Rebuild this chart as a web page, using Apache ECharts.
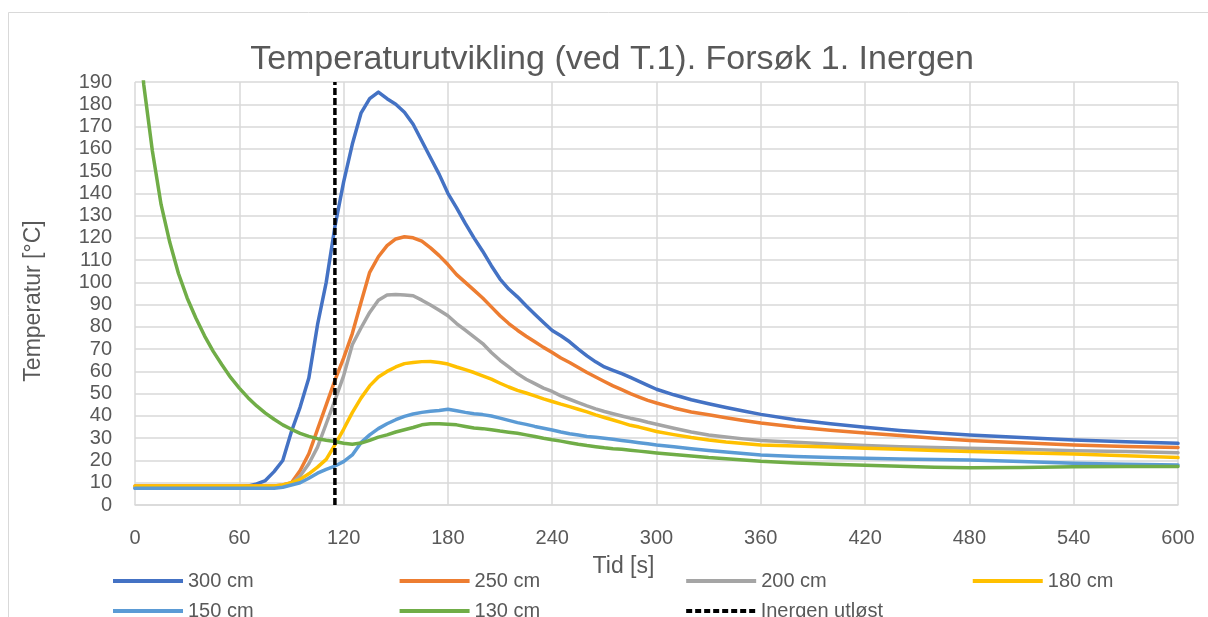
<!DOCTYPE html>
<html><head><meta charset="utf-8">
<script src="https://cdn.jsdelivr.net/npm/echarts@6/dist/echarts.min.js"></script>
<style>html,body{margin:0;padding:0;background:#fff}#c{width:1208px;height:617px}</style>
</head><body><div id="c"></div>
<script>
// Time points [s]
const times = [0,5,10,15,20,25,30,35,40,45,50,55,60,65,70,75,80,85,90,95,100,105,110,115,120,125,130,135,140,145,150,155,160,165,170,175,180,185,190,195,200,205,210,215,220,225,230,235,240,245,250,255,260,265,270,275,280,285,290,295,300,310,320,330,340,350,360,380,400,420,440,460,480,510,540,570,600];

const t300 = [7.5,7.5,7.5,7.5,7.5,7.5,7.5,7.5,7.5,7.5,7.5,7.5,8,8.5,9.5,11,15,20,33,44,57,81,100,125,145,162,176,182.5,185.5,182.5,180,176.4,171,163.5,156,148.5,140,133.5,126.5,120,114,107.5,101.5,97,93.5,89.5,85.7,82,78.4,76,73.3,70,67,64.3,62,60.5,59,57.3,55.5,53.7,52,49.5,47.3,45.5,43.8,42.2,40.7,38.3,36.5,34.9,33.5,32.4,31.4,30.3,29.2,28.4,27.7];
const t250 = [8.5,8.5,8.5,8.5,8.5,8.5,8.5,8.5,8.5,8.5,8.5,8.5,8.5,8.5,8.5,8.5,8.5,9,10,15.5,23,34,45,56,66,77,91,104.5,111.5,116.5,119.5,120.5,120,118.5,115.5,112,108,103.5,100,96.5,93,89,85,81.5,78.5,75.8,73.3,70.8,68.5,66,64,61.8,59.5,57.5,55.5,53.5,51.8,50,48.5,47,45.8,43.6,41.8,40.5,39.2,38,36.8,35,33.6,32.3,31.2,30,29,28,27,26.3,25.8];
const t200 = [8,8,8,8,8,8,8,8,8,8,8,8,8,8,8,8,8,8.5,9.5,13,18.5,26,36.5,47,58,72,79.5,86.5,92,94.3,94.5,94.3,94,92,89.8,87.5,85,81.5,78.5,75.5,72.5,68.5,65,62,59,56.5,54.5,52.5,51,49,47.5,46,44.5,43.2,42,41,40,39,38.2,37.2,36.3,34.5,32.8,31.4,30.5,29.7,29,28.2,27.4,26.7,26.2,25.8,25.5,25,24.4,24,23.5];
const t180 = [8.5,8.5,8.5,8.5,8.5,8.5,8.5,8.5,8.5,8.5,8.5,8.5,8.5,8.5,8.5,8.5,8.5,9,10,11.5,14,17,20.5,27,34,41.5,48,53.5,57.5,60,62,63.5,64,64.4,64.5,64,63.3,62,60.8,59.5,58,56.5,54.7,53,51.5,50.3,49,47.7,46.5,45.3,44.2,43,41.8,40.5,39.3,38.2,37,35.8,35,34,33,31.6,30.3,29.2,28.3,27.6,27,26.5,26,25.5,25,24.5,24,23.5,22.9,22.1,21.3];
const t150 = [7.5,7.5,7.5,7.5,7.5,7.5,7.5,7.5,7.5,7.5,7.5,7.5,7.5,7.5,7.5,7.5,7.5,8,9,10,12,14.3,16,17.5,19.5,22.5,28,31.5,34.3,36.5,38.3,39.8,40.9,41.6,42.1,42.4,43,42.3,41.6,41,40.6,40,39,38,37,36.2,35.3,34.5,33.7,32.8,32,31.4,30.8,30.4,30,29.5,29,28.5,28,27.5,27,26.2,25.3,24.5,23.8,23.1,22.5,21.8,21.3,21,20.7,20.4,20.2,19.5,18.7,18.3,18];
const t130 = [240,189,159,135,118,104,93,84,76,69,63,57.3,52.5,48.2,44.5,41.3,38.5,36,34,32.2,30.8,29.8,29.1,28.5,27.7,27.3,27.8,29,30.5,31.5,32.8,33.8,34.8,36,36.5,36.5,36.3,36,35.3,34.6,34.3,33.8,33.2,32.7,32.2,31.5,30.8,30,29.3,28.7,28,27.3,26.7,26.2,25.7,25.3,25,24.6,24.2,23.8,23.4,22.7,22,21.3,20.8,20.2,19.6,18.9,18.3,17.8,17.4,17,16.7,16.8,17.2,17.3,17.3];

const seriesNames = ['300 cm','250 cm','200 cm','180 cm','150 cm','130 cm'];
const seriesValues = [t300, t250, t200, t180, t150, t130];
const seriesColors = ['#4472C4','#ED7D31','#A5A5A5','#FFC000','#5B9BD5','#70AD47'];

const markerName = 'Inergen utløst';
const markerTime = [115, 115];
const markerTemp = [0, 190];

const FONT = 'Liberation Sans, Arial, sans-serif';
const TXT = '#595959';
const DASH_ICON = 'path://M0,0H6V4H0Z M9,0H15V4H9Z M18,0H24V4H18Z M27,0H33V4H27Z M36,0H42V4H36Z M45,0H51V4H45Z M54,0H60V4H54Z M63,0H69V4H63Z';

const chart = echarts.init(document.getElementById('c'), null, {renderer: 'canvas'});

const lineSeries = seriesNames.map((n, i) => ({
  name: n, type: 'line', symbol: 'none', clip: true,
  data: times.map((t, j) => [t, seriesValues[i][j]]),
  lineStyle: {color: seriesColors[i], width: 3.5, join: 'round', cap: 'round'},
  itemStyle: {color: seriesColors[i]},
  z: 2 + i
}));
lineSeries.push({
  name: markerName, type: 'line', symbol: 'none',
  data: markerTime.map((t, j) => [t, markerTemp[j]]),
  lineStyle: {color: '#000', width: 3.5, type: [7, 3]},
  itemStyle: {color: '#000'},
  z: 10
});

const legendCommon = {
  orient: 'horizontal', left: 113, padding: 0, itemWidth: 70, itemHeight: 4,
  itemGap: 146, icon: 'rect',
  textStyle: {fontFamily: FONT, fontSize: 20, color: TXT, lineHeight: 22}
};

chart.setOption({
  animation: false,
  backgroundColor: '#fff',
  title: {
    text: 'Temperaturutvikling (ved T.1). Forsøk 1. Inergen',
    left: 612, top: 42, textAlign: 'center', padding: 0,
    textStyle: {fontFamily: FONT, fontSize: 34, fontWeight: 'normal', color: TXT, lineHeight: 36}
  },
  graphic: [{
    type: 'rect', silent: true, z: -10,
    shape: {x: 8.5, y: 12.5, width: 1400, height: 800},
    style: {fill: 'none', stroke: '#d9d9d9', lineWidth: 1}
  }],
  legend: [
    Object.assign({}, legendCommon, {top: 570, data: seriesNames.slice(0, 4)}),
    Object.assign({}, legendCommon, {top: 600, data: [seriesNames[4], seriesNames[5], {name: markerName, icon: DASH_ICON}]})
  ],
  grid: {left: 135, right: 30, top: 82, bottom: 112, containLabel: false},
  xAxis: {
    type: 'value', min: 0, max: 600, interval: 60,
    name: 'Tid [s]', nameLocation: 'middle', nameGap: 50,
    nameTextStyle: {fontFamily: FONT, fontSize: 23, color: TXT, padding: [0, 66, 0, 0]},
    axisLine: {show: true, lineStyle: {color: '#d9d9d9', width: 1.5}},
    axisTick: {show: false},
    axisLabel: {fontFamily: FONT, fontSize: 20, color: TXT, margin: 23},
    splitLine: {show: true, lineStyle: {color: '#d9d9d9', width: 1.5}}
  },
  yAxis: {
    type: 'value', min: 0, max: 190, interval: 10,
    name: 'Temperatur [°C]', nameLocation: 'middle', nameGap: 90, nameRotate: 90,
    nameTextStyle: {fontFamily: FONT, fontSize: 23, color: TXT, padding: [0, 15, 0, 0]},
    axisLine: {show: false},
    axisTick: {show: false},
    axisLabel: {fontFamily: FONT, fontSize: 20, color: TXT, margin: 23},
    splitLine: {show: true, lineStyle: {color: '#d9d9d9', width: 1.5}}
  },
  series: lineSeries
});
</script>
</body></html>
